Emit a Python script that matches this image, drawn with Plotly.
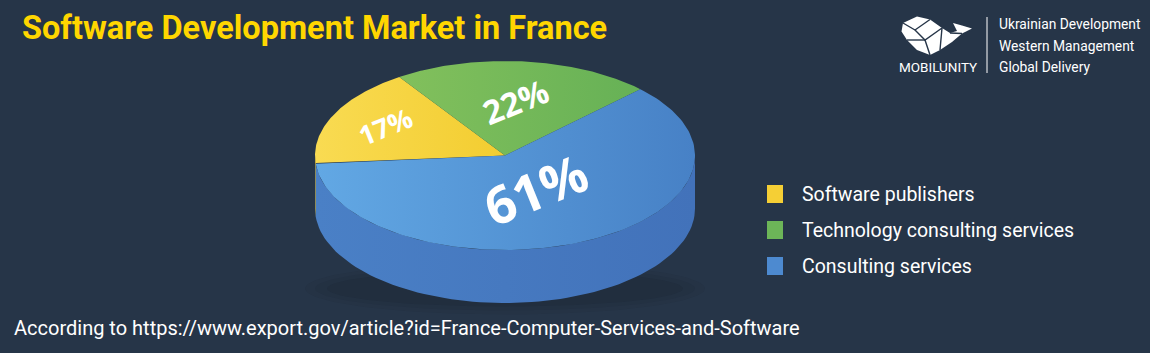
import numpy as np
import plotly.graph_objects as go

# ---------------- data ----------------
categories = ["Software publishers", "Technology consulting services", "Consulting services"]
shares = [17, 22, 61]
labels = ["17%", "22%", "61%"]

title_text = "Software Development Market in France"
footer_text = "According to https://www.export.gov/article?id=France-Computer-Services-and-Software"
tagline = ["Ukrainian Development", "Western Management", "Global Delivery"]
brand = "MOBILUNITY"

# ---------------- style ----------------
W, H = 1150, 353
BG = "#263548"
TOP_COLORS = [["#f9db52", "#f3cd30"], ["#82c05c", "#66b156"], ["#62a8e4", "#4781c6"]]
SIDE_COLORS = [["#e0b82a", "#d9b020"], ["#5f9f4a", "#589845"], ["#4a80c6", "#4272ba"]]
LEGEND_COLORS = ["#f5cf35", "#6cb558", "#4d8ad0"]
CX, CY, RX, RY, DEPTH = 505.0, 155.5, 190.0, 94.5, 53.0
START_DEG = 185.0
LABEL_R = [0.70, 0.57, 0.38]
LABEL_SIZE = [27, 33, 52]
LABEL_ANGLE = -22

fig = go.Figure()


def ell(theta_deg, dy=0.0):
    t = np.radians(theta_deg)
    return CX + RX * np.cos(t), CY - RY * np.sin(t) + dy


# soft shadow under the pie
for rx, ry, a in [(200, 26, 0.05), (190, 22, 0.06), (178, 18, 0.08)]:
    t = np.linspace(0, 2 * np.pi, 120)
    fig.add_trace(go.Scatter(x=CX + rx * np.cos(t), y=CY + DEPTH + 80 + ry * np.sin(t),
                             mode="lines", line=dict(width=0), fill="toself",
                             fillcolor=f"rgba(10,18,28,{a})", hoverinfo="skip", showlegend=False))

# slice angle ranges (clockwise from START_DEG)
total = float(sum(shares))
bounds = []
a0 = START_DEG
for s in shares:
    a1 = a0 - 360.0 * s / total
    bounds.append((a0, a1))
    a0 = a1

# side faces (visible front half: angles -180..0)
for i, (a0, a1) in enumerate(bounds):
    for shift in (0, -360, 360):
        h, l = a0 + shift, a1 + shift
        vis_hi, vis_lo = min(h, 0.0), max(l, -180.0)
        if vis_hi > vis_lo:
            th = np.linspace(vis_hi, vis_lo, 80)
            xt, yt = ell(th)
            xb, yb = ell(th[::-1], DEPTH)
            xs = np.concatenate([xt, xb, xt[:1]])
            ys = np.concatenate([yt, yb, yt[:1]])
            fig.add_trace(go.Scatter(x=xs, y=ys, mode="lines", line=dict(width=0),
                                     fill="toself",
                                     fillgradient=dict(type="horizontal",
                                                       colorscale=[[0, SIDE_COLORS[i][0]], [1, SIDE_COLORS[i][1]]]),
                                     fillcolor=SIDE_COLORS[i][1],
                                     hoverinfo="skip", showlegend=False))

# top faces
for i, (a0, a1) in enumerate(bounds):
    th = np.linspace(a0, a1, 150)
    xa, ya = ell(th)
    xs = np.concatenate([[CX], xa, [CX]])
    ys = np.concatenate([[CY], ya, [CY]])
    fig.add_trace(go.Scatter(x=xs, y=ys, mode="lines", line=dict(width=0), fill="toself",
                             fillgradient=dict(type="horizontal",
                                               colorscale=[[0, TOP_COLORS[i][0]], [1, TOP_COLORS[i][1]]]),
                             fillcolor=TOP_COLORS[i][1],
                             name=categories[i], hoverinfo="name", showlegend=False))

# percentage labels
for i, (a0, a1) in enumerate(bounds):
    mid = (a0 + a1) / 2.0
    t = np.radians(mid)
    lx = CX + RX * LABEL_R[i] * np.cos(t)
    ly = CY - RY * LABEL_R[i] * np.sin(t)
    fig.add_annotation(x=lx, y=ly, xref="x", yref="y", text=f"<b>{labels[i]}</b>", showarrow=False,
                       textangle=LABEL_ANGLE, font=dict(family="Open Sans", size=LABEL_SIZE[i], color="white"))

# title
fig.add_annotation(x=20, y=28, xref="x", yref="y", xanchor="left", yanchor="middle",
                   text=f"<b>{title_text}</b>", showarrow=False,
                   font=dict(family="Roboto", size=32.5, color="#ffd600"))

# legend (manual)
leg_y = [194, 230, 266]
for i, c in enumerate(categories):
    fig.add_shape(type="rect", x0=767, x1=783, y0=leg_y[i] - 9, y1=leg_y[i] + 9,
                  xref="x", yref="y", fillcolor=LEGEND_COLORS[i], line=dict(width=0))
    fig.add_annotation(x=800, y=leg_y[i], xref="x", yref="y", xanchor="left", yanchor="middle",
                       text=c, showarrow=False, font=dict(family="Roboto", size=19.5, color="white"))

# footer
fig.add_annotation(x=12, y=328, xref="x", yref="y", xanchor="left", yanchor="middle",
                   text=footer_text, showarrow=False,
                   font=dict(family="Roboto", size=20, color="white"))

# logo: whale silhouette
whale = ("M 903,23 L 917,16.5 L 930,19.5 L 942,28 L 950,33 L 957,31 L 953,23 L 962,25.5 L 972,28.5 "
         "L 962,33.5 L 952,42 L 940,50 L 930,55 L 917,50 L 907,40 L 901.5,31.5 Z")
fig.add_shape(type="path", path=whale, xref="x", yref="y", fillcolor="white", line=dict(width=0))
for seg in ["M 903,23 L 915,30 L 930,19.5", "M 915,30 L 925,40 L 942,28", "M 925,40 L 930,55",
            "M 907,40 L 925,40", "M 942,28 L 940,50", "M 950,33 L 962,33.5"]:
    fig.add_shape(type="path", path=seg, xref="x", yref="y", line=dict(color=BG, width=1.4))
fig.add_annotation(x=938, y=67, xref="x", yref="y", xanchor="center", yanchor="middle",
                   text=brand, showarrow=False,
                   font=dict(family="Roboto", size=13.5, color="white"))
fig.add_shape(type="line", x0=987, x1=987, y0=17, y1=73, xref="x", yref="y",
              line=dict(color="white", width=1))
for k, t in enumerate(tagline):
    fig.add_annotation(x=997, y=24 + 21.5 * k, xref="x", yref="y", xanchor="left", yanchor="middle",
                       text=t, showarrow=False,
                       font=dict(family="Roboto", size=13.8, color="white"))

fig.update_xaxes(range=[0, W], visible=False, fixedrange=True)
fig.update_yaxes(range=[H, 0], visible=False, fixedrange=True)
fig.update_layout(width=W, height=H, margin=dict(l=0, r=0, t=0, b=0),
                  paper_bgcolor=BG, plot_bgcolor=BG, showlegend=False)

fig.write_html("out.html")
